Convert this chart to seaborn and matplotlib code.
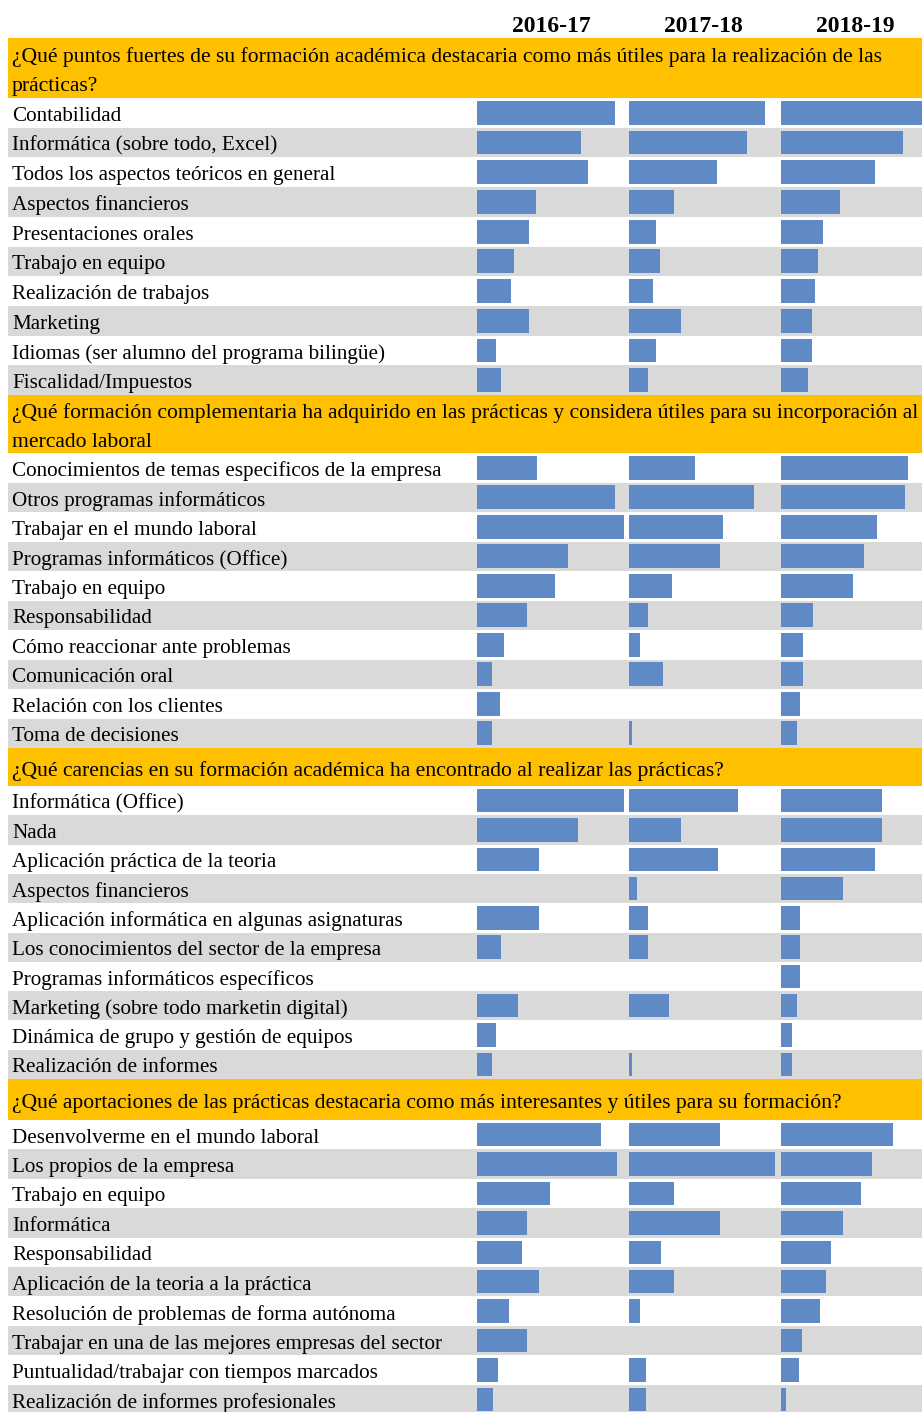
import seaborn as sns
import pandas as pd
import numpy as np
import matplotlib.pyplot as plt

# data (bar length, same scale for the three courses)
years = ['2016-17', '2017-18', '2018-19']

q1 = '¿Qué puntos fuertes de su formación académica destacaria como más útiles para la realización de las\nprácticas?'
labels1 = ['Contabilidad', 'Informática (sobre todo, Excel)', 'Todos los aspectos teóricos en general',
           'Aspectos financieros', 'Presentaciones orales', 'Trabajo en equipo', 'Realización de trabajos',
           'Marketing', 'Idiomas (ser alumno del programa bilingüe)', 'Fiscalidad/Impuestos']
v1_1617 = [138, 104, 111, 59, 52, 37, 34, 52, 19, 24]
v1_1718 = [136, 118, 88, 45, 27, 31, 24, 52, 27, 19]
v1_1819 = [150, 122, 94, 59, 42, 37, 34, 31, 31, 27]

q2 = '¿Qué formación complementaria ha adquirido en las prácticas y considera útiles para su incorporación al\nmercado laboral'
labels2 = ['Conocimientos de temas especificos de la empresa', 'Otros programas informáticos',
           'Trabajar en el mundo laboral', 'Programas informáticos (Office)', 'Trabajo en equipo',
           'Responsabilidad', 'Cómo reaccionar ante problemas', 'Comunicación oral',
           'Relación con los clientes', 'Toma de decisiones']
v2_1617 = [60, 138, 147, 91, 78, 50, 27, 15, 23, 15]
v2_1718 = [66, 125, 94, 91, 43, 19, 11, 34, 0, 3]
v2_1819 = [127, 124, 96, 83, 72, 32, 22, 22, 19, 16]

q3 = '¿Qué carencias en su formación académica ha encontrado al realizar las prácticas?'
labels3 = ['Informática (Office)', 'Nada', 'Aplicación práctica de la teoria', 'Aspectos financieros',
           'Aplicación informática en algunas asignaturas', 'Los conocimientos del sector de la empresa',
           'Programas informáticos específicos', 'Marketing (sobre todo marketin digital)',
           'Dinámica de grupo y gestión de equipos', 'Realización de informes']
v3_1617 = [147, 101, 62, 0, 62, 24, 0, 41, 19, 15]
v3_1718 = [109, 52, 89, 8, 19, 19, 0, 40, 0, 3]
v3_1819 = [101, 101, 94, 62, 19, 19, 19, 16, 11, 11]

q4 = '¿Qué aportaciones de las prácticas destacaria como más interesantes y útiles para su formación?'
labels4 = ['Desenvolverme en el mundo laboral', 'Los propios de la empresa', 'Trabajo en equipo',
           'Informática', 'Responsabilidad', 'Aplicación de la teoria a la práctica',
           'Resolución de problemas de forma autónoma', 'Trabajar en una de las mejores empresas del sector',
           'Puntualidad/trabajar con tiempos marcados', 'Realización de informes profesionales']
v4_1617 = [124, 140, 73, 50, 45, 62, 32, 50, 21, 16]
v4_1718 = [91, 146, 45, 91, 32, 45, 11, 0, 17, 17]
v4_1819 = [112, 91, 80, 62, 50, 45, 39, 21, 18, 5]

sections = [
    (q1, labels1, [v1_1617, v1_1718, v1_1819]),
    (q2, labels2, [v2_1617, v2_1718, v2_1819]),
    (q3, labels3, [v3_1617, v3_1718, v3_1819]),
    (q4, labels4, [v4_1617, v4_1718, v4_1819]),
]

# layout in pixels: header top, header bottom, rows bottom
W, H = 922, 1412
boxes = [(38, 98, 395), (395, 453, 748), (748, 786, 1079), (1079, 1120, 1414)]
col_left = [477, 629, 781]
col_width = [152, 152, 141]
orange = '#FFC000'
grey = '#D9D9D9'
blue = '#5F8AC6'
serif = ['Liberation Serif', 'DejaVu Serif']

sns.set_style('white')
plt.rcParams['font.family'] = serif
plt.rcParams['text.color'] = 'black'

fig = plt.figure(figsize=(W / 100, H / 100), dpi=100)
bg = fig.add_axes([0, 0, 1, 1])
bg.set_xlim(0, W)
bg.set_ylim(H, 0)
bg.axis('off')

for j, y in enumerate(years):
    bg.text(col_left[j] + 74, 27, y, ha='center', va='center', fontsize=17, fontweight='bold')

for (q, labels, vals), (ht, hb, rb) in zip(sections, boxes):
    bg.axhspan(ht, hb, xmin=8 / W, xmax=1, color=orange, lw=0)
    nlines = q.count('\n') + 1
    lh = (hb - ht) / nlines
    for k, line in enumerate(q.split('\n')):
        bg.text(12, ht + lh * (k + 0.5) + 4, line, ha='left', va='center', fontsize=15.6)
    rh = (rb - hb) / len(labels)
    for i, lab in enumerate(labels):
        if i % 2 == 1:
            bg.axhspan(hb + i * rh, hb + (i + 1) * rh, xmin=8 / W, xmax=1, color=grey, lw=0)
        bg.text(12, hb + (i + 0.5) * rh + 3.5, lab, ha='left', va='center', fontsize=15.2)

    for j in range(3):
        ax = fig.add_axes([col_left[j] / W, 1 - rb / H, col_width[j] / W, (rb - hb) / H])
        df = pd.DataFrame({'item': labels, 'valor': vals[j]})
        sns.barplot(data=df, x='valor', y='item', order=labels, orient='h', color=blue,
                    saturation=1, width=0.8, linewidth=0, ax=ax)
        ax.set_xlim(0, col_width[j])
        ax.set_ylim(len(labels) - 0.5, -0.5)
        ax.set_facecolor('none')
        ax.axis('off')

fig.savefig('out.png', dpi=100)
